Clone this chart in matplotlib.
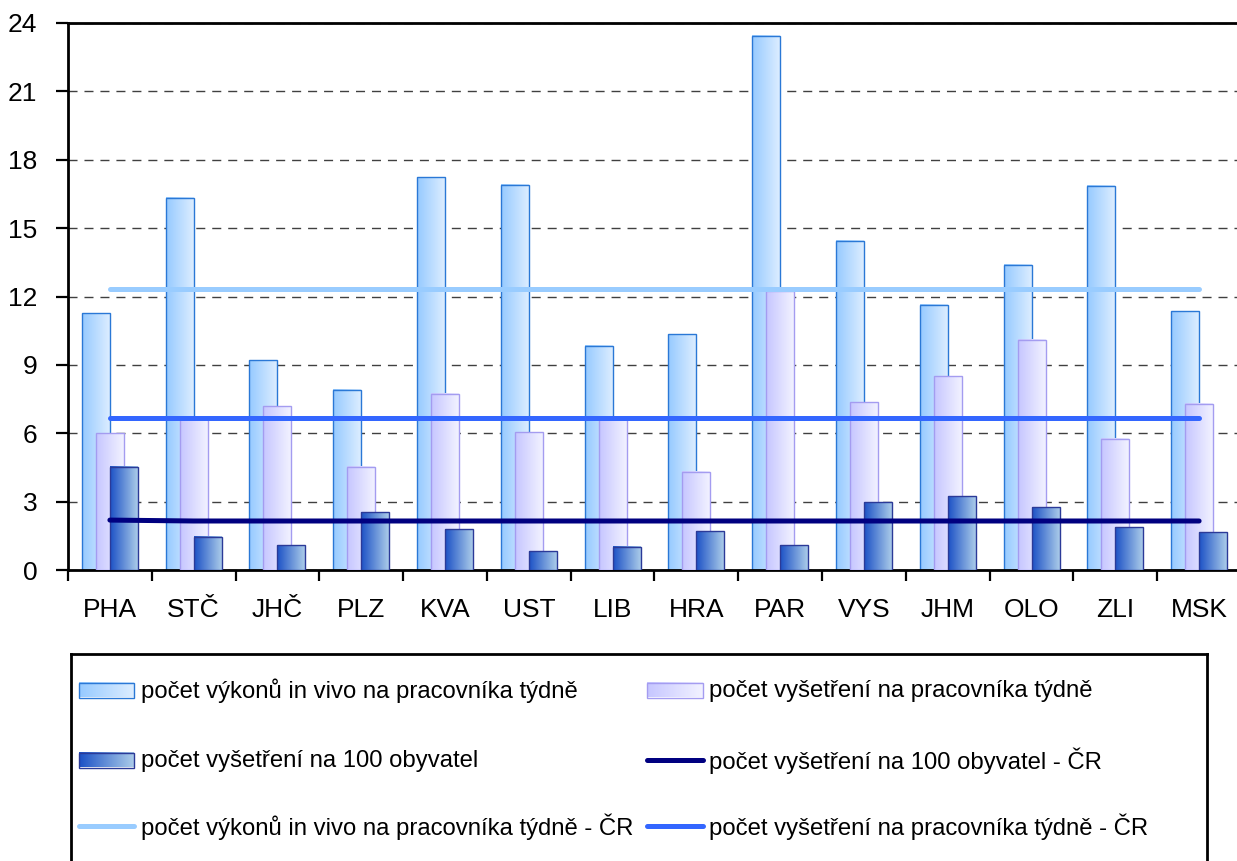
import numpy as np
import matplotlib
matplotlib.use('Agg')
import matplotlib.pyplot as plt
from matplotlib.colors import LinearSegmentedColormap
from matplotlib.patches import Rectangle

plt.rcParams['font.family'] = ['Liberation Sans', 'DejaVu Sans']

# Data
kraje = ['PHA', 'STČ', 'JHČ', 'PLZ', 'KVA', 'UST', 'LIB', 'HRA', 'PAR', 'VYS', 'JHM', 'OLO', 'ZLI', 'MSK']
vykony_prac = [11.26, 16.34, 9.21, 7.90, 17.24, 16.90, 9.85, 10.35, 23.45, 14.44, 11.63, 13.39, 16.86, 11.36]
vysetreni_prac = [6.00, 6.65, 7.19, 4.52, 7.73, 6.05, 6.65, 4.30, 12.25, 7.36, 8.50, 10.10, 5.75, 7.29]
vysetreni_100 = [4.52, 1.45, 1.09, 2.54, 1.78, 0.82, 1.01, 1.70, 1.09, 2.97, 3.24, 2.76, 1.88, 1.66]
cr_vysetreni_100 = [2.19, 2.15, 2.15, 2.15, 2.15, 2.15, 2.15, 2.15, 2.15, 2.15, 2.15, 2.15, 2.15, 2.15]
cr_vykony_prac = [12.35, 12.35, 12.35, 12.35, 12.35, 12.35, 12.35, 12.35, 12.35, 12.35, 12.35, 12.35, 12.35, 12.35]
cr_vysetreni_prac = [6.69, 6.69, 6.69, 6.69, 6.69, 6.69, 6.69, 6.69, 6.69, 6.69, 6.69, 6.69, 6.69, 6.69]

labels = ['počet výkonů in vivo na pracovníka týdně',
          'počet vyšetření na pracovníka týdně',
          'počet vyšetření na 100 obyvatel',
          'počet vyšetření na 100 obyvatel - ČR',
          'počet výkonů in vivo na pracovníka týdně - ČR',
          'počet vyšetření na pracovníka týdně - ČR']

# barvy (gradient zleva doprava, okraj)
c_light = ('#96caff', '#dcedff', '#2a78d6')
c_purple = ('#c6c6ff', '#f2f2ff', '#a49cf0')
c_dark = ('#1d52c6', '#aacbe9', '#2b3a98')
line_cols = ['#000080', '#99ccff', '#3366ff']

W, H = 1237, 861
fig = plt.figure(figsize=(W / 100, H / 100), dpi=100)
ax = fig.add_axes([68 / W, (H - 570) / H, 1173 / W, (570 - 23) / H])

x = np.arange(len(kraje))
bw = 0.334
off = 0.167


def gradient_bars(ax, bars, cols, z):
    cmap = LinearSegmentedColormap.from_list('g', [cols[0], cols[1]])
    grad = np.linspace(0, 1, 64).reshape(1, -1)
    for b in bars:
        x0, y0 = b.get_xy()
        ax.imshow(grad, cmap=cmap, extent=[x0, x0 + b.get_width(), y0, y0 + b.get_height()],
                  aspect='auto', interpolation='bilinear', zorder=z)
        b.set_facecolor('none')


b1 = ax.bar(x - off, vykony_prac, bw, edgecolor=c_light[2], linewidth=1.0, zorder=2.1)
gradient_bars(ax, b1, c_light, 2)
b2 = ax.bar(x, vysetreni_prac, bw, edgecolor=c_purple[2], linewidth=1.0, zorder=3.1)
gradient_bars(ax, b2, c_purple, 3)
b3 = ax.bar(x + off, vysetreni_100, bw, edgecolor=c_dark[2], linewidth=1.0, zorder=4.1)
gradient_bars(ax, b3, c_dark, 4)

ax.plot(x, cr_vysetreni_100, color=line_cols[0], lw=3.6, solid_capstyle='round', zorder=5)
ax.plot(x, cr_vykony_prac, color=line_cols[1], lw=3.6, solid_capstyle='round', zorder=5)
ax.plot(x, cr_vysetreni_prac, color=line_cols[2], lw=3.6, solid_capstyle='round', zorder=5)

ax.set_xlim(-0.5, len(kraje) - 0.5)
ax.set_ylim(0, 24)
ax.set_yticks(np.arange(0, 25, 3))
ax.set_xticks(x)
ax.set_xticklabels(kraje)
ax.set_xticks(np.arange(-0.5, len(kraje), 1), minor=True)
ax.tick_params(axis='x', which='major', length=0, labelsize=19, pad=20)
ax.tick_params(axis='x', which='minor', length=8, width=1.6, direction='out')
ax.tick_params(axis='y', length=9, width=1.6, direction='out', labelsize=19, pad=13)

ax.yaxis.grid(True, linestyle=(0, (6.5, 5)), color='#404040', linewidth=1.0, zorder=0.5)
ax.set_axisbelow(True)
for s in ['left', 'top', 'bottom', 'right']:
    ax.spines[s].set_linewidth(2.0)

# legenda v samostatnem ramecku
lx0, ly0 = 71, 654
lax = fig.add_axes([lx0 / W, 0, (1207 - lx0) / W, (H - ly0) / H])
lax.set_xticks([])
lax.set_yticks([])
lax.spines['bottom'].set_visible(False)
for s in ['left', 'top', 'right']:
    lax.spines[s].set_linewidth(2.0)

rows = [36, 106, 172]
cols_x = [(8, 63, 70), (576, 632, 638)]
entries = [(0, 0, 'bar', c_light), (0, 1, 'bar', c_purple),
           (1, 0, 'bar', c_dark), (1, 1, 'line', line_cols[0]),
           (2, 0, 'line', line_cols[1]), (2, 1, 'line', line_cols[2])]
for i, (r, c, kind, col) in enumerate(entries):
    hx0, hx1, tx = cols_x[c]
    y = rows[r]
    if kind == 'bar':
        cmap = LinearSegmentedColormap.from_list('g', [col[0], col[1]])
        lax.imshow(np.linspace(0, 1, 64).reshape(1, -1), cmap=cmap, aspect='auto',
                   extent=[hx0, hx1, y + 7.5, y - 7.5], interpolation='bilinear', zorder=2)
        lax.add_patch(Rectangle((hx0, y - 7.5), hx1 - hx0, 15, facecolor='none',
                                edgecolor=col[2], lw=1.0, zorder=3))
    else:
        lax.plot([hx0, hx1], [y, y], color=col, lw=3.6, solid_capstyle='round')
    lax.text(tx, y + 1, labels[i], fontsize=17.2, va='center', ha='left')

lax.set_xlim(0, 1207 - lx0)
lax.set_ylim(H - ly0, 0)

fig.savefig('out.png', dpi=100)
